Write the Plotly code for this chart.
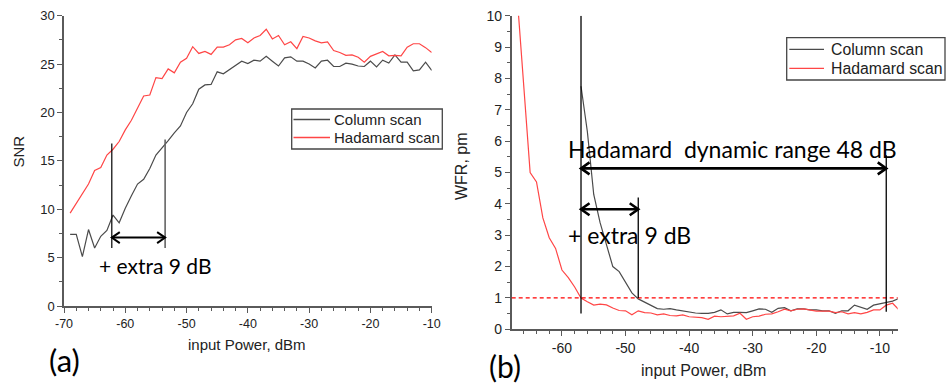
import plotly.graph_objects as go

# ---------------- data ----------------
snr_power = list(range(-69, -9))  # -69 .. -10 dBm
snr_column = [7.4, 7.4, 5.1, 7.9, 6.0, 7.2, 7.8, 9.4, 8.6, 10.1,
              11.4, 12.6, 13.1, 14.2, 15.6, 16.3, 17.1, 17.9, 18.6, 20.0,
              20.9, 22.4, 22.85, 22.9, 24.2, 24.0, 24.45, 24.85, 25.3, 25.05,
              25.4, 25.3, 25.8, 25.3, 24.8, 25.65, 25.75, 25.3, 25.3, 25.0,
              24.6, 25.3, 25.4, 24.75, 24.75, 25.1, 25.0, 24.8, 24.75, 25.3,
              24.7, 25.4, 25.1, 25.95, 25.2, 25.2, 24.3, 24.4, 25.2, 24.35]
snr_hadamard = [9.6, 10.6, 11.6, 12.6, 14.0, 14.3, 15.6, 16.2, 17.0, 18.2,
                19.2, 20.4, 21.7, 21.8, 23.6, 23.5, 24.5, 24.1, 25.2, 25.6,
                26.8, 26.1, 26.3, 26.0, 26.75, 26.75, 27.0, 27.5, 27.65, 27.2,
                27.7, 27.95, 28.6, 27.6, 27.95, 27.0, 27.3, 26.6, 27.85, 27.7,
                27.4, 27.2, 27.3, 26.4, 26.2, 25.9, 25.95, 25.7, 25.2, 25.8,
                26.05, 26.3, 25.85, 25.9, 25.85, 26.75, 27.1, 27.1, 26.7, 26.2]

wfr_col_power = list(range(-57, -6))  # -57 .. -7 dBm
wfr_column = [7.75, 6.3, 4.3, 3.4, 2.7, 2.0, 1.84, 1.5, 1.16, 0.97,
              0.86, 0.75, 0.66, 0.64, 0.66, 0.62, 0.58, 0.55, 0.52, 0.51,
              0.51, 0.54, 0.62, 0.49, 0.54, 0.54, 0.53, 0.59, 0.65, 0.64,
              0.54, 0.67, 0.69, 0.59, 0.65, 0.65, 0.62, 0.62, 0.59, 0.59,
              0.51, 0.59, 0.59, 0.77, 0.70, 0.64, 0.77, 0.82, 0.86, 0.90, 0.98]
wfr_had_power = list(range(-67, -6))  # -67 .. -7 dBm
wfr_hadamard = [10.5, 7.7, 5.0, 4.7, 3.55, 2.92, 2.58, 1.89, 1.65, 1.35,
                1.0, 0.88, 0.77, 0.80, 0.78, 0.68, 0.60, 0.59, 0.46, 0.59,
                0.53, 0.52, 0.46, 0.49, 0.44, 0.43, 0.46, 0.40, 0.38, 0.37,
                0.32, 0.42, 0.40, 0.42, 0.43, 0.51, 0.32, 0.40, 0.42, 0.48,
                0.49, 0.56, 0.64, 0.59, 0.64, 0.65, 0.62, 0.58, 0.58, 0.58,
                0.53, 0.56, 0.49, 0.53, 0.49, 0.54, 0.62, 0.62, 0.77, 0.83, 0.62]

series_names = ["Column scan", "Hadamard scan"]

# tick values / labels
snr_xticks = [-70, -60, -50, -40, -30, -20, -10]
snr_xticklabels = ["-70", "-60", "-50", "-40", "-30", "-20", "-10"]
wfr_xticks = [-60, -50, -40, -30, -20, -10]
wfr_xticklabels = ["-60", "-50", "-40", "-30", "-20", "-10"]

# annotation values (dBm / data units)
a_left_from, a_left_to = -62.2, -53.5
b_start, b_extra_end, b_range_end = -57.0, -48.0, -9.0
wfr_threshold = 1.0

W, H = 946, 383
def px_x(p):
    return p / W
def px_y(p):
    return 1 - p / H

GRAY = "rgb(75,75,75)"
RED = "rgb(255,70,70)"
AX = "rgb(90,90,90)"
TXT = "#222"
ARIAL = "Liberation Sans, Arial, sans-serif"
CAL = "Lato, Carlito, sans-serif"
series_colors = [GRAY, RED]

fig = go.Figure()
fig.add_trace(go.Scatter(x=snr_power, y=snr_column, mode="lines", name=series_names[0],
                         line=dict(color=GRAY, width=1.2), xaxis="x", yaxis="y"))
fig.add_trace(go.Scatter(x=snr_power, y=snr_hadamard, mode="lines", name=series_names[1],
                         line=dict(color=RED, width=1.2), xaxis="x", yaxis="y"))
fig.add_trace(go.Scatter(x=wfr_col_power, y=wfr_column, mode="lines", name=series_names[0],
                         line=dict(color=GRAY, width=1.2), xaxis="x2", yaxis="y2"))
fig.add_trace(go.Scatter(x=wfr_had_power, y=wfr_hadamard, mode="lines", name=series_names[1],
                         line=dict(color=RED, width=1.2), xaxis="x2", yaxis="y2"))

axis_common = dict(showgrid=False, zeroline=False, showline=True, linecolor=AX, linewidth=1.5,
                   ticks="outside", ticklen=5, tickwidth=1.2, tickcolor=AX, automargin=False)

fig.update_layout(
    width=W, height=H,
    margin=dict(l=0, r=0, t=0, b=0, autoexpand=False),
    paper_bgcolor="white", plot_bgcolor="white",
    showlegend=False,
    xaxis=dict(domain=[px_x(64), px_x(431.7)], range=[-70, -10], anchor="y",
               tickmode="array", tickvals=snr_xticks, ticktext=snr_xticklabels,
               minor=dict(dtick=2, tick0=-70, ticks="outside", ticklen=3, tickcolor=AX, tickwidth=1),
               tickfont=dict(family=ARIAL, size=12.5, color=TXT), **axis_common),
    yaxis=dict(domain=[px_y(306), px_y(15.7)], range=[0, 30], anchor="x",
               tickmode="linear", tick0=0, dtick=5,
               minor=dict(dtick=2.5, ticks="outside", ticklen=3, tickcolor=AX, tickwidth=1),
               tickfont=dict(family=ARIAL, size=13, color=TXT), **axis_common),
    xaxis2=dict(domain=[px_x(511.7), px_x(897.7)], range=[-67.9, -7.2], anchor="y2",
                tickmode="array", tickvals=wfr_xticks, ticktext=wfr_xticklabels,
                minor=dict(dtick=2, tick0=-60, ticks="outside", ticklen=3, tickcolor=AX, tickwidth=1),
                tickfont=dict(family=ARIAL, size=14, color=TXT), **axis_common),
    yaxis2=dict(domain=[px_y(329.3), px_y(15.7)], range=[0, 10], anchor="x2",
                tickmode="linear", tick0=0, dtick=1,
                minor=dict(dtick=0.5, ticks="outside", ticklen=3, tickcolor=AX, tickwidth=1),
                tickfont=dict(family=ARIAL, size=14, color=TXT), **axis_common),
)

shapes = [
    # left panel vertical markers
    dict(type="line", xref="x", yref="y", x0=a_left_from, x1=a_left_from, y0=6.0, y1=16.8,
         line=dict(color="black", width=1.2)),
    dict(type="line", xref="x", yref="y", x0=a_left_to, x1=a_left_to, y0=6.0, y1=17.2,
         line=dict(color="rgb(100,100,100)", width=1.6)),
    # right panel threshold
    dict(type="line", xref="x2 domain", yref="y2", x0=0, x1=1, y0=wfr_threshold, y1=wfr_threshold,
         line=dict(color="red", width=1.3, dash="4px,3px")),
    # right panel vertical markers
    dict(type="line", xref="x2", yref="y2", x0=b_start, x1=b_start, y0=0.5, y1=10,
         line=dict(color="black", width=1.3)),
    dict(type="line", xref="x2", yref="y2", x0=b_extra_end, x1=b_extra_end, y0=1.0, y1=4.2,
         line=dict(color="black", width=1.3)),
    dict(type="line", xref="x2", yref="y2", x0=b_range_end, x1=b_range_end, y0=0.56, y1=5.55,
         line=dict(color="black", width=1.3)),
]

def darrow(xr, yr, x0, x1, y, w, hl=8, hw=5):
    out = [dict(type="line", xref=xr, yref=yr, x0=x0, x1=x1, y0=y, y1=y,
                line=dict(color="black", width=w))]
    # open chevron heads, sized in pixels, anchored at the data end points
    out.append(dict(type="path", xref=xr, yref=yr, xsizemode="pixel", ysizemode="pixel",
                    xanchor=x1, yanchor=y, path=f"M{-hl},{hw} L0,0 L{-hl},{-hw}",
                    line=dict(color="black", width=w)))
    out.append(dict(type="path", xref=xr, yref=yr, xsizemode="pixel", ysizemode="pixel",
                    xanchor=x0, yanchor=y, path=f"M{hl},{hw} L0,0 L{hl},{-hw}",
                    line=dict(color="black", width=w)))
    return out

shapes += darrow("x", "y", a_left_from, a_left_to, 7.07, 2.0, hl=8, hw=5.5)
shapes += darrow("x2", "y2", b_start, b_range_end, 5.13, 2.6, hl=8.5, hw=6)
shapes += darrow("x2", "y2", b_start, b_extra_end, 3.83, 2.6, hl=8.5, hw=6)

# legends (box + sample lines), drawn in paper pixels
def legend_box(x0, y0, x1, y1, line_x0, line_x1, rows):
    out = [dict(type="rect", xref="paper", yref="paper", x0=px_x(x0), x1=px_x(x1),
                y0=px_y(y1), y1=px_y(y0), line=dict(color="rgb(70,70,70)", width=1.3),
                fillcolor="white", layer="above")]
    for ry, col in zip(rows, series_colors):
        out.append(dict(type="line", xref="paper", yref="paper", x0=px_x(line_x0), x1=px_x(line_x1),
                        y0=px_y(ry), y1=px_y(ry), line=dict(color=col, width=1.3)))
    return out

shapes += legend_box(291.7, 109, 442.3, 149, 293.5, 330, [119.5, 137.5])
shapes += legend_box(786.7, 37.7, 945.0, 80, 789.3, 824, [49.3, 68.3])
fig.update_layout(shapes=shapes)

ann = []
for name, ry in zip(series_names, [119.5, 137.5]):
    ann.append(dict(xref="paper", yref="paper", x=px_x(331.5), y=px_y(ry), text=name,
                    showarrow=False, xanchor="left", yanchor="middle",
                    font=dict(family=ARIAL, size=15, color=TXT)))
for name, ry in zip(series_names, [49.3, 68.3]):
    ann.append(dict(xref="paper", yref="paper", x=px_x(828.5), y=px_y(ry), text=name,
                    showarrow=False, xanchor="left", yanchor="middle",
                    font=dict(family=ARIAL, size=15.8, color=TXT)))

ann.append(dict(xref="x", yref="y", x=-55.0, y=4.14, text="+ extra 9 dB", showarrow=False,
                font=dict(family=CAL, size=21, color="black"), xanchor="center", yanchor="middle"))
ann.append(dict(xref="x2", yref="y2", x=-33.2, y=5.75, text="Hadamard  dynamic range 48 dB",
                showarrow=False, font=dict(family=CAL, size=23, color="black"),
                xanchor="center", yanchor="middle"))
ann.append(dict(xref="x2", yref="y2", x=-49.4, y=3.0, text="+ extra 9 dB", showarrow=False,
                font=dict(family=CAL, size=23, color="black"), xanchor="center", yanchor="middle"))

# panel labels
ann.append(dict(xref="paper", yref="paper", x=px_x(64), y=px_y(360), text="(a)", showarrow=False,
                font=dict(family=CAL, size=31, color="black"), xanchor="center", yanchor="middle"))
ann.append(dict(xref="paper", yref="paper", x=px_x(505), y=px_y(366), text="(b)", showarrow=False,
                font=dict(family=CAL, size=30, color="black"), xanchor="center", yanchor="middle"))

# axis titles
ann.append(dict(xref="paper", yref="paper", x=px_x(247), y=px_y(344), text="input Power, dBm",
                showarrow=False, font=dict(family=ARIAL, size=15, color=TXT),
                xanchor="center", yanchor="middle"))
ann.append(dict(xref="paper", yref="paper", x=px_x(17.5), y=px_y(152), text="SNR", textangle=-90,
                showarrow=False, font=dict(family=ARIAL, size=15, color=TXT),
                xanchor="center", yanchor="middle"))
ann.append(dict(xref="paper", yref="paper", x=px_x(703.3), y=px_y(370), text="input Power, dBm",
                showarrow=False, font=dict(family=ARIAL, size=16, color=TXT),
                xanchor="center", yanchor="middle"))
ann.append(dict(xref="paper", yref="paper", x=px_x(462), y=px_y(166), text="WFR, pm", textangle=-90,
                showarrow=False, font=dict(family=ARIAL, size=16, color=TXT),
                xanchor="center", yanchor="middle"))

fig.update_layout(annotations=ann)
fig.write_html("out.html", config={"displayModeBar": False},
               post_script="document.body.style.margin='0';document.body.style.overflow='hidden';")
